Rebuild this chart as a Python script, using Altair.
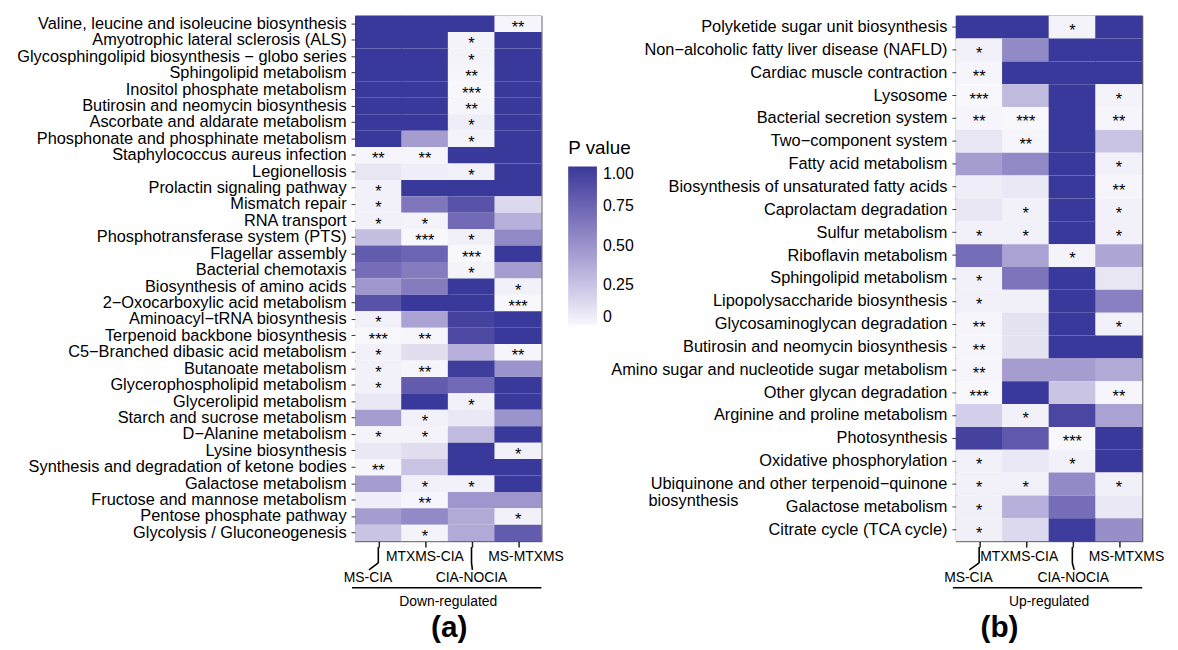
import altair as alt
import pandas as pd

cols = ["MS-CIA", "MTXMS-CIA", "CIA-NOCIA", "MS-MTXMS"]

rows_a = [
    "Valine, leucine and isoleucine biosynthesis",
    "Amyotrophic lateral sclerosis (ALS)",
    "Glycosphingolipid biosynthesis \u2212 globo series",
    "Sphingolipid metabolism",
    "Inositol phosphate metabolism",
    "Butirosin and neomycin biosynthesis",
    "Ascorbate and aldarate metabolism",
    "Phosphonate and phosphinate metabolism",
    "Staphylococcus aureus infection",
    "Legionellosis",
    "Prolactin signaling pathway",
    "Mismatch repair",
    "RNA transport",
    "Phosphotransferase system (PTS)",
    "Flagellar assembly",
    "Bacterial chemotaxis",
    "Biosynthesis of amino acids",
    "2\u2212Oxocarboxylic acid metabolism",
    "Aminoacyl\u2212tRNA biosynthesis",
    "Terpenoid backbone biosynthesis",
    "C5\u2212Branched dibasic acid metabolism",
    "Butanoate metabolism",
    "Glycerophospholipid metabolism",
    "Glycerolipid metabolism",
    "Starch and sucrose metabolism",
    "D\u2212Alanine metabolism",
    "Lysine biosynthesis",
    "Synthesis and degradation of ketone bodies",
    "Galactose metabolism",
    "Fructose and mannose metabolism",
    "Pentose phosphate pathway",
    "Glycolysis / Gluconeogenesis",
]

p_a = [
    [1.00, 1.00, 1.00, 0.01],
    [1.00, 1.00, 0.02, 1.00],
    [1.00, 1.00, 0.02, 1.00],
    [1.00, 1.00, 0.01, 1.00],
    [1.00, 1.00, 0.00, 1.00],
    [1.00, 1.00, 0.01, 1.00],
    [1.00, 1.00, 0.05, 1.00],
    [1.00, 0.45, 0.02, 1.00],
    [0.01, 0.01, 1.00, 1.00],
    [0.08, 0.05, 0.03, 1.00],
    [0.03, 1.00, 1.00, 1.00],
    [0.03, 0.65, 0.85, 0.15],
    [0.03, 0.02, 0.72, 0.35],
    [0.28, 0.00, 0.04, 0.55],
    [0.80, 0.75, 0.00, 1.00],
    [0.70, 0.62, 0.02, 0.45],
    [0.48, 0.62, 1.00, 0.03],
    [0.85, 1.00, 1.00, 0.00],
    [0.03, 0.42, 0.95, 1.00],
    [0.00, 0.01, 0.90, 1.00],
    [0.03, 0.12, 0.35, 0.01],
    [0.03, 0.01, 0.97, 0.50],
    [0.03, 0.80, 0.72, 1.00],
    [0.07, 1.00, 0.03, 1.00],
    [0.45, 0.03, 0.07, 0.50],
    [0.02, 0.02, 0.30, 1.00],
    [0.07, 0.12, 1.00, 0.03],
    [0.01, 0.25, 1.00, 1.00],
    [0.45, 0.03, 0.03, 1.00],
    [0.05, 0.01, 0.48, 0.48],
    [0.45, 0.55, 0.38, 0.03],
    [0.25, 0.02, 0.38, 0.80],
]

stars_a = [
    ["", "", "", "**"],
    ["", "", "*", ""],
    ["", "", "*", ""],
    ["", "", "**", ""],
    ["", "", "***", ""],
    ["", "", "**", ""],
    ["", "", "*", ""],
    ["", "", "*", ""],
    ["**", "**", "", ""],
    ["", "", "*", ""],
    ["*", "", "", ""],
    ["*", "", "", ""],
    ["*", "*", "", ""],
    ["", "***", "*", ""],
    ["", "", "***", ""],
    ["", "", "*", ""],
    ["", "", "", "*"],
    ["", "", "", "***"],
    ["*", "", "", ""],
    ["***", "**", "", ""],
    ["*", "", "", "**"],
    ["*", "**", "", ""],
    ["*", "", "", ""],
    ["", "", "*", ""],
    ["", "*", "", ""],
    ["*", "*", "", ""],
    ["", "", "", "*"],
    ["**", "", "", ""],
    ["", "*", "*", ""],
    ["", "**", "", ""],
    ["", "", "", "*"],
    ["", "*", "", ""],
]

rows_b = [
    "Polyketide sugar unit biosynthesis",
    "Non\u2212alcoholic fatty liver disease (NAFLD)",
    "Cardiac muscle contraction",
    "Lysosome",
    "Bacterial secretion system",
    "Two\u2212component system",
    "Fatty acid metabolism",
    "Biosynthesis of unsaturated fatty acids",
    "Caprolactam degradation",
    "Sulfur metabolism",
    "Riboflavin metabolism",
    "Sphingolipid metabolism",
    "Lipopolysaccharide biosynthesis",
    "Glycosaminoglycan degradation",
    "Butirosin and neomycin biosynthesis",
    "Amino sugar and nucleotide sugar metabolism",
    "Other glycan degradation",
    "Arginine and proline metabolism",
    "Photosynthesis",
    "Oxidative phosphorylation",
    "Ubiquinone and other terpenoid\u2212quinone\nbiosynthesis",
    "Galactose metabolism",
    "Citrate cycle (TCA cycle)",
]

p_b = [
    [1.00, 1.00, 0.02, 1.00],
    [0.03, 0.55, 1.00, 1.00],
    [0.01, 1.00, 1.00, 1.00],
    [0.00, 0.30, 1.00, 0.02],
    [0.01, 0.00, 1.00, 0.01],
    [0.08, 0.01, 1.00, 0.25],
    [0.45, 0.55, 1.00, 0.03],
    [0.05, 0.07, 1.00, 0.01],
    [0.08, 0.03, 1.00, 0.03],
    [0.03, 0.03, 1.00, 0.03],
    [0.70, 0.42, 0.02, 0.40],
    [0.03, 0.66, 1.00, 0.08],
    [0.03, 0.04, 1.00, 0.60],
    [0.01, 0.10, 1.00, 0.03],
    [0.01, 0.10, 1.00, 1.00],
    [0.01, 0.45, 0.45, 0.38],
    [0.00, 1.00, 0.25, 0.01],
    [0.20, 0.03, 0.92, 0.42],
    [0.95, 0.82, 0.00, 1.00],
    [0.03, 0.07, 0.03, 1.00],
    [0.03, 0.03, 0.55, 0.04],
    [0.04, 0.35, 0.70, 0.07],
    [0.04, 0.15, 0.98, 0.52],
]

stars_b = [
    ["", "", "*", ""],
    ["*", "", "", ""],
    ["**", "", "", ""],
    ["***", "", "", "*"],
    ["**", "***", "", "**"],
    ["", "**", "", ""],
    ["", "", "", "*"],
    ["", "", "", "**"],
    ["", "*", "", "*"],
    ["*", "*", "", "*"],
    ["", "", "*", ""],
    ["*", "", "", ""],
    ["*", "", "", ""],
    ["**", "", "", "*"],
    ["**", "", "", ""],
    ["**", "", "", ""],
    ["***", "", "", "**"],
    ["", "*", "", ""],
    ["", "", "***", ""],
    ["*", "", "*", ""],
    ["*", "*", "", "*"],
    ["*", "", "", ""],
    ["*", "", "", ""],
]

# placement of the staggered column labels (in column units) and their level
label_x_a = [0.78, 2.0, 3.0, 4.17]
label_x_b = [0.77, 1.86, 3.02, 4.16]
label_level = ["low", "high", "low", "high"]
leader_cols = [1, 3]

FONT = "Liberation Sans"
W, H = 188, 530
DARK = "#38399a"
LIGHT = "#f8f7fc"
YFS = 16.5
OVERLAP = 0.008  # tiny tile overlap (column units) to hide anti-aliasing seams


def tidy(rows, p, stars):
    recs = []
    for r, pv, st in zip(rows, p, stars):
        for j, c in enumerate(cols):
            recs.append(dict(row=r, col=c, xi=j + 1,
                             x0=max(0.5, j + 0.5 - OVERLAP), x1=min(4.5, j + 1.5 + OVERLAP),
                             p=pv[j], star=st[j]))
    return pd.DataFrame(recs)


def one():
    return pd.DataFrame({"k": [0]})


def panel(rows, p, stars, label_x, group, tag, tag_x, show_legend):
    df = tidy(rows, p, stars)
    xscale = alt.Scale(domain=[0.5, 4.5], nice=False, zero=False)
    yscale = alt.Scale(domain=rows, paddingInner=0, paddingOuter=0)
    yaxis = alt.Axis(title=None, labelFont=FONT, labelFontSize=YFS, labelColor="black",
                     tickSize=4, tickColor="#333", tickWidth=1, domain=False,
                     labelPadding=5, labelLimit=600, grid=False,
                     labelExpr="split(datum.value, '\\n')[0]")
    xaxis = alt.Axis(title=None, values=[1, 2, 3, 4], labels=False, ticks=True,
                     tickSize=6, tickColor="#222", tickWidth=1.5, domain=False, grid=False)
    X = lambda f: alt.X(f, scale=xscale, axis=xaxis)
    Y = alt.Y("row:N", scale=yscale, axis=yaxis, sort=rows)
    if show_legend:
        legend = alt.Legend(title="P value", titleFont=FONT, titleFontSize=19,
                            titleFontWeight="normal", titleColor="black",
                            labelFont=FONT, labelFontSize=16, labelColor="black",
                            gradientLength=160, gradientThickness=29,
                            values=[0, 0.25, 0.5, 0.75, 1],
                            labelExpr="datum.value == 0 ? '0' : format(datum.value, '.2f')",
                            orient="none", legendX=-391, legendY=125, direction="vertical",
                            gradientStrokeWidth=0, labelOffset=6, titlePadding=8)
    else:
        legend = None
    base = alt.Chart(df)
    tiles = base.mark_rect().encode(
        x=X("x0:Q"), x2="x1:Q", y=Y,
        color=alt.Color("p:Q", scale=alt.Scale(domain=[0, 1], range=[LIGHT, DARK]),
                        legend=legend),
    )
    txt = base.transform_filter("datum.star != ''").mark_text(
        font=FONT, fontSize=16.5, color="black", baseline="middle", dy=4
    ).encode(x=X("xi:Q"), y=Y, text="star:N")

    lab = pd.DataFrame({"name": cols, "lx": label_x, "lv": label_level})
    hi = alt.Chart(lab).transform_filter("datum.lv == 'high'").mark_text(
        font=FONT, fontSize=14, color="black", baseline="middle"
    ).encode(x=X("lx:Q"), y=alt.value(H + 16), text="name:N")
    lo = alt.Chart(lab).transform_filter("datum.lv == 'low'").mark_text(
        font=FONT, fontSize=14, color="black", baseline="middle"
    ).encode(x=X("lx:Q"), y=alt.value(H + 37), text="name:N")

    lead = pd.DataFrame({"xa": leader_cols,
                         "xb": [label_x[c - 1] + 0.02 for c in leader_cols]})
    vert = alt.Chart(lead).mark_rule(color="black", strokeWidth=1.6).encode(
        x=X("xa:Q"), y=alt.value(H + 6), y2=alt.value(H + 22))
    diag = alt.Chart(lead).mark_rule(color="black", strokeWidth=1.6).encode(
        x=X("xa:Q"), x2="xb:Q", y=alt.value(H + 22), y2=alt.value(H + 29))

    bracket = alt.Chart(one()).mark_rule(color="black", strokeWidth=1.3).encode(
        x=alt.value(-3), x2=alt.value(W), y=alt.value(H + 47))
    gtext = alt.Chart(one()).mark_text(font=FONT, fontSize=14, color="black",
                                       baseline="middle").encode(
        x=alt.value(W / 2), y=alt.value(H + 61), text=alt.value(group))
    tagt = alt.Chart(one()).mark_text(font=FONT, fontSize=30, fontWeight="bold",
                                      color="black", baseline="middle").encode(
        x=alt.value(tag_x), y=alt.value(H + 88), text=alt.value(tag))

    layers = [tiles, txt, hi, lo, vert, diag, bracket, gtext, tagt]

    second = [(r, r.split("\n")[1]) for r in rows if "\n" in r]
    if second:
        sd = pd.DataFrame({"row": [s[0] for s in second], "t": [s[1] for s in second]})
        layers.append(alt.Chart(sd).mark_text(font=FONT, fontSize=YFS, color="black",
                                              align="left", baseline="middle", dy=17).encode(
            x=alt.value(-310), y=Y, text="t:N"))

    return alt.layer(*layers).properties(width=W, height=H)


left = panel(rows_a, p_a, stars_a, label_x_a, "Down-regulated", "(a)", 95, False)
right = panel(rows_b, p_b, stars_b, label_x_b, "Up-regulated", "(b)", 44, True)

chart = alt.hconcat(left, right, spacing=2).resolve_scale(color="independent").configure_view(
    stroke="#333", strokeWidth=1
).properties(padding={"left": 8, "top": 4, "right": 5, "bottom": 0})

chart.save("out.html", embed_options={"renderer": "svg", "actions": False})
